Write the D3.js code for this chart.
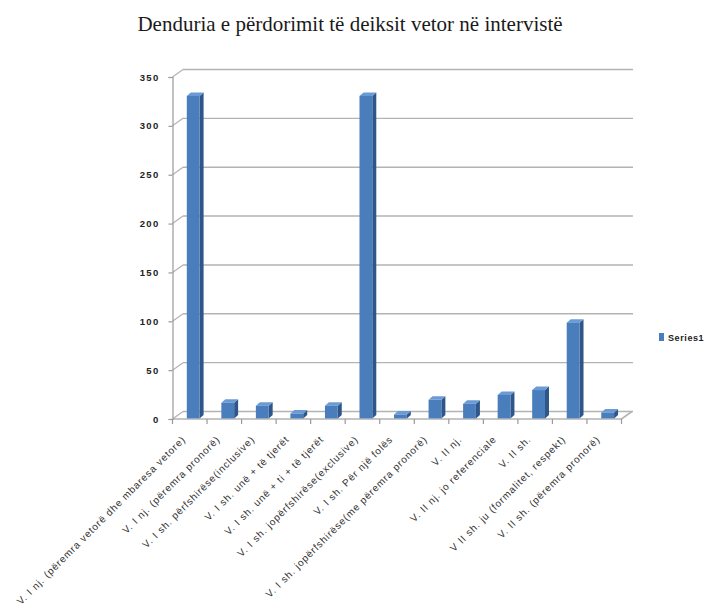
<!DOCTYPE html>
<html>
<head>
<meta charset="utf-8">
<script src="https://cdnjs.cloudflare.com/ajax/libs/d3/7.8.5/d3.min.js"></script>
<style>
  html, body { margin: 0; padding: 0; background: #ffffff; }
  svg { display: block; }
</style>
</head>
<body>
<svg id="chart" width="708" height="608"></svg>
<script>
// Category labels (x axis)
const categories = [
  "V. I nj. (përemra vetorë dhe mbaresa vetore)",
  "V. I nj. (përemra pronorë)",
  "V. I sh. përfshirëse(inclusive)",
  "V. I sh. unë + të tjerët",
  "V. I sh. unë + ti + të tjerët",
  "V. I sh. jopërfshirëse(exclusive)",
  "V. I sh. Për një folës",
  "V. I sh. jopërfshirëse(me përemra pronorë)",
  "V. II nj.",
  "V. II nj. jo referenciale",
  "V. II sh.",
  "V II sh. ju (formalitet, respekt)",
  "V. II sh. (përemra pronorë)"
];
// Series1 values
const series1 = [330, 16, 13, 5, 13, 330, 4, 19, 15, 24, 29, 98, 6];
// Value axis ticks
const yTicks = [0, 50, 100, 150, 200, 250, 300, 350];
const seriesName = "Series1";
const title = "Denduria e përdorimit të deiksit vetor në intervistë";

const svg = d3.select("#chart");

// Front plane of the plot and depth offset of the back wall
const front = { left: 172.5, right: 621.5, bottom: 419, top: 77 };
const depth = { dx: 10.5, dy: -7.5 };

const x = d3.scaleBand()
  .domain(categories)
  .range([front.left, front.right])
  .paddingInner(0).paddingOuter(0);

const y = d3.scaleLinear()
  .domain([0, 350])
  .range([front.bottom, front.top]);

const gridColor = "#b3b3b3";
const axisColor = "#9a9a9a";

// Title
svg.append("text")
  .attr("x", 350)
  .attr("y", 31)
  .attr("text-anchor", "middle")
  .attr("font-family", "'Liberation Serif', 'Times New Roman', serif")
  .attr("font-size", 21)
  .attr("fill", "#1a1a1a")
  .text(title);

// Back wall gridlines
const grid = svg.append("g");
grid.selectAll("line.back")
  .data(yTicks)
  .join("line")
  .attr("x1", front.left + depth.dx)
  .attr("x2", front.right + depth.dx + 1)
  .attr("y1", d => y(d) + depth.dy)
  .attr("y2", d => y(d) + depth.dy)
  .attr("stroke", gridColor)
  .attr("stroke-width", 1.4);

// Side wall gridlines (front tick to back wall)
grid.selectAll("line.side")
  .data(yTicks)
  .join("line")
  .attr("x1", front.left)
  .attr("x2", front.left + depth.dx)
  .attr("y1", d => y(d))
  .attr("y2", d => y(d) + depth.dy)
  .attr("stroke", gridColor)
  .attr("stroke-width", 1.2);

// Floor: front edge and right edge
svg.append("path")
  .attr("d", d3.line()([
    [front.left, front.bottom],
    [front.right, front.bottom],
    [front.right + depth.dx, front.bottom + depth.dy]
  ]))
  .attr("fill", "none")
  .attr("stroke", gridColor)
  .attr("stroke-width", 1.6);

// Value axis (front left edge) with ticks and labels
const yAxis = d3.axisLeft(y)
  .tickValues(yTicks)
  .tickSize(4)
  .tickPadding(9);
const gy = svg.append("g")
  .attr("transform", `translate(${front.left},0)`)
  .call(yAxis);
gy.select(".domain").attr("stroke", axisColor).attr("stroke-width", 1.2);
gy.selectAll(".tick line").attr("stroke", axisColor).attr("stroke-width", 1.2);
gy.selectAll(".tick text")
  .attr("font-family", "'Liberation Sans', Arial, sans-serif")
  .attr("font-size", 9.5)
  .attr("font-weight", "bold")
  .attr("letter-spacing", 1.3)
  .attr("fill", "#222");

// Category axis ticks on the floor front edge
const bounds = categories.map(c => x(c)).concat([front.right]);
svg.append("g").selectAll("line")
  .data(bounds)
  .join("line")
  .attr("x1", d => d).attr("x2", d => d)
  .attr("y1", front.bottom).attr("y2", front.bottom + 5)
  .attr("stroke", axisColor)
  .attr("stroke-width", 1.2);

// 3D columns
const barW = 12.8;
const barOff = 14.3;       // from band start to the front face
const barShift = { dx: 0, dy: -0.6 };
const barDepth = { dx: 4, dy: -3.5 };
const colFront = "#4a7dbb", colSide = "#2f5688", colTop = "#6a9bd6";

const bars = svg.append("g");
categories.forEach((c, i) => {
  const v = series1[i];
  const x0 = x(c) + barOff + barShift.dx;
  const x1 = x0 + barW;
  const yb = y(0) + barShift.dy;
  const yt = y(v) + barShift.dy;
  const g = bars.append("g");
  // side face
  g.append("path")
    .attr("d", d3.line()([
      [x1, yb], [x1 + barDepth.dx, yb + barDepth.dy],
      [x1 + barDepth.dx, yt + barDepth.dy], [x1, yt]
    ]) + "Z")
    .attr("fill", colSide);
  // top face
  g.append("path")
    .attr("d", d3.line()([
      [x0, yt], [x1, yt],
      [x1 + barDepth.dx, yt + barDepth.dy], [x0 + barDepth.dx, yt + barDepth.dy]
    ]) + "Z")
    .attr("fill", colTop);
  // front face
  g.append("rect")
    .attr("x", x0).attr("y", yt)
    .attr("width", barW).attr("height", yb - yt)
    .attr("fill", colFront);
});

// Category labels, rotated
svg.append("g").selectAll("text")
  .data(categories)
  .join("text")
  .attr("transform", d => `translate(${x(d) + x.bandwidth() / 2 - 3.5},${front.bottom + 21}) rotate(-45)`)
  .attr("text-anchor", "end")
  .attr("font-family", "'Liberation Sans', Arial, sans-serif")
  .attr("font-size", 10)
  .attr("letter-spacing", 0.85)
  .attr("fill", "#333")
  .text(d => d);

// Legend
const legend = svg.append("g").attr("transform", "translate(659,333)");
legend.append("rect")
  .attr("width", 5).attr("height", 8)
  .attr("fill", colFront);
legend.append("text")
  .attr("x", 9).attr("y", 7.5)
  .attr("font-family", "'Liberation Sans', Arial, sans-serif")
  .attr("font-size", 9)
  .attr("font-weight", "bold")
  .attr("letter-spacing", 0.6)
  .attr("fill", "#222")
  .text(seriesName);
</script>
</body>
</html>
